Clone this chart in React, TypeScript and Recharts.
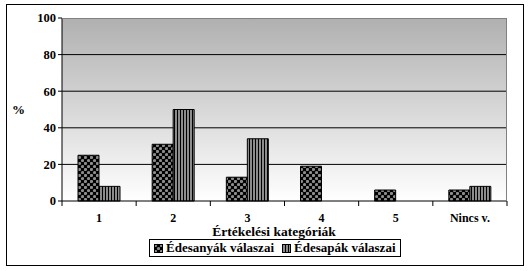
import { BarChart, Bar, XAxis, YAxis, CartesianGrid } from 'recharts'

const categories = ['1', '2', '3', '4', '5', 'Nincs v.']
const anyak = [25, 31, 13, 19, 6, 6]
const apak = [8, 50, 34, 0, 0, 8]
const yTicks = [0, 20, 40, 60, 80, 100]

const seriesNames = { anyak: 'Édesanyák válaszai', apak: 'Édesapák válaszai' }

const data = categories.map((name, i) => ({ name, anyak: anyak[i], apak: apak[i] }))

const FONT = '"Liberation Serif", "Times New Roman", serif'
const PLOT_LEFT = 62
const PLOT_RIGHT = 507
const BAND = (PLOT_RIGHT - PLOT_LEFT) / categories.length

const XTick = ({ x, y, payload, index }: any) => {
    const left = x - BAND / 2
    return (
        <g>
            <line x1={left} x2={left} y1={y - 8} y2={y - 3} stroke="#000" />
            {index === categories.length - 1 && (
                <line x1={x + BAND / 2} x2={x + BAND / 2} y1={y - 8} y2={y - 3} stroke="#000" />
            )}
            <text x={x} y={y + 13} textAnchor="middle" fontFamily={FONT} fontWeight="bold" fontSize={12} fill="#000">
                {payload.value}
            </text>
        </g>
    )
}

const LegendBox = () => (
    <div style={{
        position: 'absolute', left: 149, top: 239, boxSizing: 'border-box',
        border: '1px solid #000', background: '#fff', fontFamily: FONT, fontWeight: 'bold',
        fontSize: 13, display: 'flex', alignItems: 'center', padding: '0 4px', height: 18, whiteSpace: 'nowrap',
    }}>
        <svg width={9} height={9} style={{ marginRight: 3 }}>
            <rect x={0.5} y={0.5} width={8} height={8} fill="url(#patAnya)" stroke="#000" />
        </svg>
        <span style={{ marginRight: 8 }}>{seriesNames.anyak}</span>
        <svg width={9} height={9} style={{ marginRight: 3 }}>
            <rect x={0.5} y={0.5} width={8} height={8} fill="url(#patApa)" stroke="#000" />
        </svg>
        <span>{seriesNames.apak}</span>
    </div>
)

export default function App() {
    return (
        <div style={{ position: 'fixed', left: 0, top: 0, width: 528, height: 271, background: '#fff' }}>
            <div style={{ position: 'absolute', left: 6, top: 4, width: 516, height: 260, border: '1px solid #000' }} />
            <div style={{ position: 'absolute', left: 12, top: 102, fontFamily: FONT, fontWeight: 'bold', fontSize: 13 }}>%</div>
            <div style={{ position: 'absolute', left: 0, width: 548, top: 225, lineHeight: '14px', textAlign: 'center', fontFamily: FONT, fontWeight: 'bold', fontSize: 13.5 }}>
                Értékelési kategóriák
            </div>
            <BarChart
                width={528}
                height={271}
                data={data}
                margin={{ top: 18, right: 528 - PLOT_RIGHT, bottom: 40, left: 0 }}
                barGap={0}
                barSize={21}
                style={{ position: 'absolute', left: 0, top: 0 }}
            >
                <defs>
                    <linearGradient id="bgGrad" x1="0" y1="0" x2="0" y2="1">
                        <stop offset="0%" stopColor="#b0b0b0" />
                        <stop offset="100%" stopColor="#ffffff" />
                    </linearGradient>
                    <pattern id="patAnya" width={6} height={6} patternUnits="userSpaceOnUse">
                        <rect width={6} height={6} fill="#000" />
                        <circle cx={1.5} cy={1.5} r={1.6} fill="#8c8c8c" />
                        <circle cx={4.5} cy={4.5} r={1.6} fill="#8c8c8c" />
                    </pattern>
                    <pattern id="patApa" width={3} height={3} patternUnits="userSpaceOnUse">
                        <rect width={3} height={3} fill="#8c8c8c" />
                        <rect width={1} height={3} fill="#000" />
                    </pattern>
                </defs>
                <CartesianGrid vertical={false} stroke="#000" fill="url(#bgGrad)" horizontalValues={[20, 40, 60, 80]} />
                <XAxis
                    dataKey="name"
                    height={30}
                    stroke="#000"
                    tickLine={false}
                    tick={<XTick />}
                    interval={0}
                />
                <YAxis
                    width={PLOT_LEFT}
                    domain={[0, 100]}
                    ticks={yTicks}
                    stroke="#000"
                    tickSize={4}
                    tick={{ fontFamily: FONT, fontWeight: 'bold', fontSize: 12.5, fill: '#000' }}
                    interval={0}
                />
                <Bar dataKey="anyak" name={seriesNames.anyak} fill="url(#patAnya)" stroke="#000" strokeWidth={1} isAnimationActive={false} />
                <Bar dataKey="apak" name={seriesNames.apak} fill="url(#patApa)" stroke="#000" strokeWidth={1} isAnimationActive={false} />
            </BarChart>
            <svg width={528} height={271} style={{ position: 'absolute', left: 0, top: 0, pointerEvents: 'none' }}>
                <line x1={PLOT_LEFT} x2={PLOT_RIGHT} y1={18.5} y2={18.5} stroke="#808080" />
                <line x1={PLOT_RIGHT - 0.5} x2={PLOT_RIGHT - 0.5} y1={18} y2={201} stroke="#808080" />
            </svg>
            <LegendBox />
        </div>
    )
}
